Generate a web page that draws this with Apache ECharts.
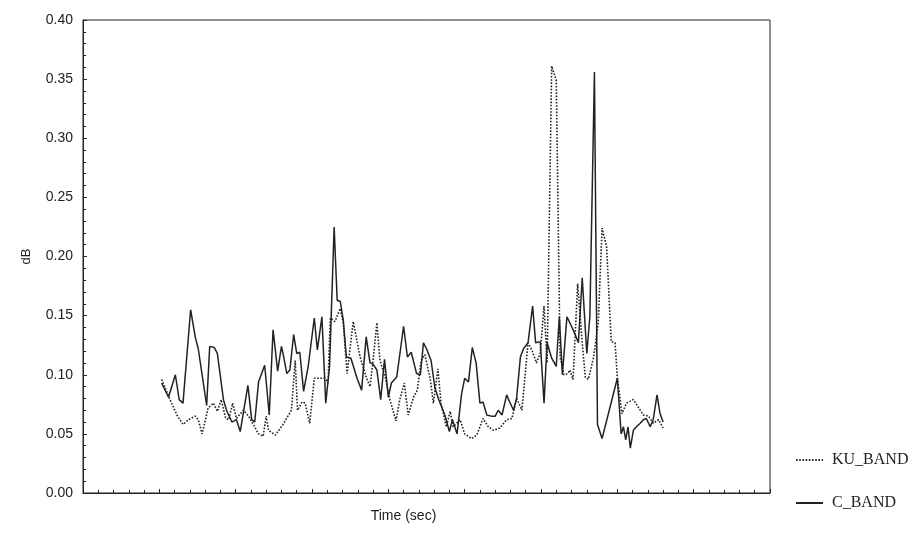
<!DOCTYPE html>
<html>
<head>
<meta charset="utf-8">
<script src="https://cdn.jsdelivr.net/npm/echarts@6/dist/echarts.min.js"></script>
<style>
  html, body { margin: 0; padding: 0; background: #fff; }
  #chart { width: 915px; height: 545px; }
</style>
</head>
<body>
<div id="chart"></div>
<script>
// values (time in sec, level in dB)
const kuTime = [10.3, 11.4, 12.3, 13.1, 13.8, 14.7, 15.1, 15.6, 16.4, 17.1, 17.6, 18.1, 18.7, 19.1, 19.6, 20.1, 21.0, 21.7, 22.3, 23.0,
  23.6, 24.0, 24.3, 25.2, 26.2, 27.3, 27.8, 28.1, 28.7, 29.1, 29.7, 30.3, 31.0, 31.7, 32.1, 32.4, 33.0, 33.7, 34.1, 34.6,
  35.4, 36.3, 37.1, 37.6, 38.0, 38.5, 38.9, 39.6, 40.2, 41.0, 41.5, 42.1, 42.6, 43.3, 43.8, 44.3, 44.8, 45.5, 45.9, 46.5,
  46.9, 47.6, 48.1, 48.5, 49.4, 50.0, 50.9, 51.6, 52.4, 53.1, 53.8, 54.6, 55.5, 56.2, 56.8, 57.5, 58.3, 58.8, 59.4, 59.9,
  60.4, 60.8, 61.4, 62.0, 62.5, 63.0, 63.5, 63.8, 64.2, 64.8, 65.0, 65.4, 65.8, 66.2, 66.9, 67.5, 68.0, 68.6, 69.2, 69.7,
  70.0, 70.6, 71.2, 72.1, 72.8, 73.4, 74.1, 74.7, 75.4, 76.0];
const kuBand = [0.096, 0.079, 0.066, 0.058, 0.062, 0.065, 0.062, 0.050, 0.072, 0.076, 0.069, 0.079, 0.063, 0.062, 0.076, 0.063, 0.070, 0.065, 0.058, 0.050,
  0.048, 0.065, 0.053, 0.049, 0.058, 0.070, 0.112, 0.070, 0.077, 0.076, 0.059, 0.097, 0.097, 0.097, 0.093, 0.148, 0.145, 0.156, 0.144, 0.101,
  0.145, 0.115, 0.098, 0.090, 0.112, 0.144, 0.112, 0.098, 0.079, 0.061, 0.079, 0.093, 0.066, 0.081, 0.087, 0.112, 0.117, 0.096, 0.076, 0.105,
  0.076, 0.056, 0.069, 0.056, 0.062, 0.050, 0.046, 0.049, 0.063, 0.056, 0.053, 0.055, 0.062, 0.063, 0.080, 0.070, 0.127, 0.121, 0.110, 0.118,
  0.158, 0.110, 0.361, 0.349, 0.115, 0.100, 0.101, 0.104, 0.096, 0.177, 0.177, 0.127, 0.098, 0.096, 0.115, 0.144, 0.224, 0.208, 0.128, 0.127,
  0.098, 0.067, 0.076, 0.079, 0.072, 0.066, 0.065, 0.059, 0.062, 0.055];

const cTime = [10.3, 11.2, 12.1, 12.6, 13.1, 14.1, 14.7, 15.1, 16.2, 16.6, 17.2, 17.6, 18.4, 18.8, 19.5, 20.1, 20.6, 21.6, 22.1, 22.5,
  23.0, 23.8, 24.4, 24.9, 25.5, 26.0, 26.3, 26.7, 27.1, 27.6, 28.0, 28.4, 28.9, 29.5, 30.3, 30.7, 31.3, 31.8, 32.3, 32.9,
  33.3, 33.7, 34.1, 34.5, 35.1, 35.9, 36.5, 37.1, 37.6, 38.0, 38.5, 39.0, 39.5, 40.0, 40.4, 41.1, 42.0, 42.5, 43.0, 43.7,
  44.2, 44.6, 45.0, 45.6, 46.1, 46.6, 47.4, 48.0, 48.4, 49.0, 49.6, 50.0, 50.5, 51.0, 51.5, 52.0, 52.4, 52.9, 53.5, 54.0,
  54.4, 54.9, 55.5, 55.9, 56.4, 56.8, 57.3, 57.7, 58.3, 58.9, 59.3, 59.9, 60.4, 60.8, 61.4, 62.0, 62.4, 62.8, 63.4, 64.0,
  64.6, 64.9, 65.4, 66.0, 66.4, 67.0, 67.4, 68.0, 70.0, 70.5, 70.8, 71.1, 71.4, 71.7, 72.1, 72.5, 73.0, 73.4, 73.8, 74.3,
  74.7, 75.2, 75.6, 76.0];
const cBand = [0.093, 0.081, 0.100, 0.079, 0.076, 0.155, 0.132, 0.122, 0.074, 0.124, 0.123, 0.118, 0.079, 0.070, 0.060, 0.062, 0.052, 0.091, 0.062, 0.060,
  0.094, 0.108, 0.066, 0.138, 0.103, 0.124, 0.115, 0.101, 0.104, 0.134, 0.118, 0.119, 0.086, 0.107, 0.148, 0.121, 0.149, 0.076, 0.107, 0.225,
  0.163, 0.162, 0.146, 0.115, 0.114, 0.097, 0.087, 0.132, 0.110, 0.109, 0.104, 0.079, 0.113, 0.081, 0.093, 0.098, 0.141, 0.115, 0.119, 0.101,
  0.100, 0.127, 0.122, 0.112, 0.089, 0.079, 0.066, 0.052, 0.062, 0.050, 0.084, 0.097, 0.094, 0.123, 0.110, 0.076, 0.077, 0.066, 0.065, 0.065,
  0.070, 0.066, 0.083, 0.077, 0.070, 0.080, 0.115, 0.122, 0.127, 0.158, 0.127, 0.128, 0.076, 0.127, 0.114, 0.107, 0.149, 0.100, 0.149, 0.141,
  0.132, 0.127, 0.182, 0.118, 0.149, 0.356, 0.058, 0.046, 0.097, 0.050, 0.056, 0.045, 0.056, 0.038, 0.053, 0.056, 0.059, 0.062, 0.063, 0.056,
  0.062, 0.083, 0.067, 0.060];

const seriesNames = ['KU_BAND', 'C_BAND'];
const yTicks = [0, 0.05, 0.10, 0.15, 0.20, 0.25, 0.30, 0.35, 0.40];

const pairs = (t, v) => t.map((x, i) => [x, v[i]]);

const chart = echarts.init(document.getElementById('chart'));

const option = {
    backgroundColor: '#fff',
    animation: false,
    grid: {
        left: 83,
        right: 145,
        top: 20,
        bottom: 52,
        show: true,
        borderColor: '#222',
        borderWidth: 1
    },
    legend: {
        data: seriesNames,
        orient: 'vertical',
        left: 790,
        top: 447,
        itemWidth: 27,
        itemHeight: 14,
        itemGap: 27,
        itemStyle: { opacity: 0 },
        textStyle: {
            fontFamily: 'Liberation Serif',
            fontSize: 16,
            color: '#222',
            padding: [0, 0, 0, 4]
        }
    },
    xAxis: {
        type: 'value',
        min: 0,
        max: 90,
        interval: 10,
        name: 'Time (sec)',
        nameLocation: 'middle',
        nameGap: 16,
        nameTextStyle: {
            fontFamily: 'Liberation Sans',
            fontSize: 14,
            color: '#222',
            padding: [0, 46, 0, 0]
        },
        axisLine: { lineStyle: { color: '#222' } },
        axisTick: { inside: true, length: 4, lineStyle: { color: '#222' } },
        minorTick: { show: true, splitNumber: 5, length: 3, lineStyle: { color: '#222' } },
        axisLabel: { show: false },
        splitLine: { show: false }
    },
    yAxis: {
        type: 'value',
        min: yTicks[0],
        max: yTicks[yTicks.length - 1],
        interval: 0.05,
        name: 'dB',
        nameLocation: 'middle',
        nameRotate: 90,
        nameGap: 50,
        nameTextStyle: {
            fontFamily: 'Liberation Sans',
            fontSize: 13,
            color: '#222'
        },
        axisLine: { show: true, lineStyle: { color: '#222' } },
        axisTick: { inside: true, length: 4, lineStyle: { color: '#222' } },
        minorTick: { show: true, splitNumber: 5, length: 3, lineStyle: { color: '#222' } },
        axisLabel: {
            margin: 10,
            fontFamily: 'Liberation Sans',
            fontSize: 14,
            color: '#222',
            formatter: v => v.toFixed(2)
        },
        splitLine: { show: false }
    },
    series: [
        {
            name: seriesNames[0],
            type: 'line',
            data: pairs(kuTime, kuBand),
            symbol: 'none',
            color: '#222',
            lineStyle: { color: '#222', width: 1.6, type: [1.6, 1.6] }
        },
        {
            name: seriesNames[1],
            type: 'line',
            data: pairs(cTime, cBand),
            symbol: 'none',
            color: '#222',
            lineStyle: { color: '#222', width: 1.5 }
        }
    ]
};

chart.setOption(option);

window.addEventListener('resize', _ => {
    chart.resize();
});
</script>
</body>
</html>
